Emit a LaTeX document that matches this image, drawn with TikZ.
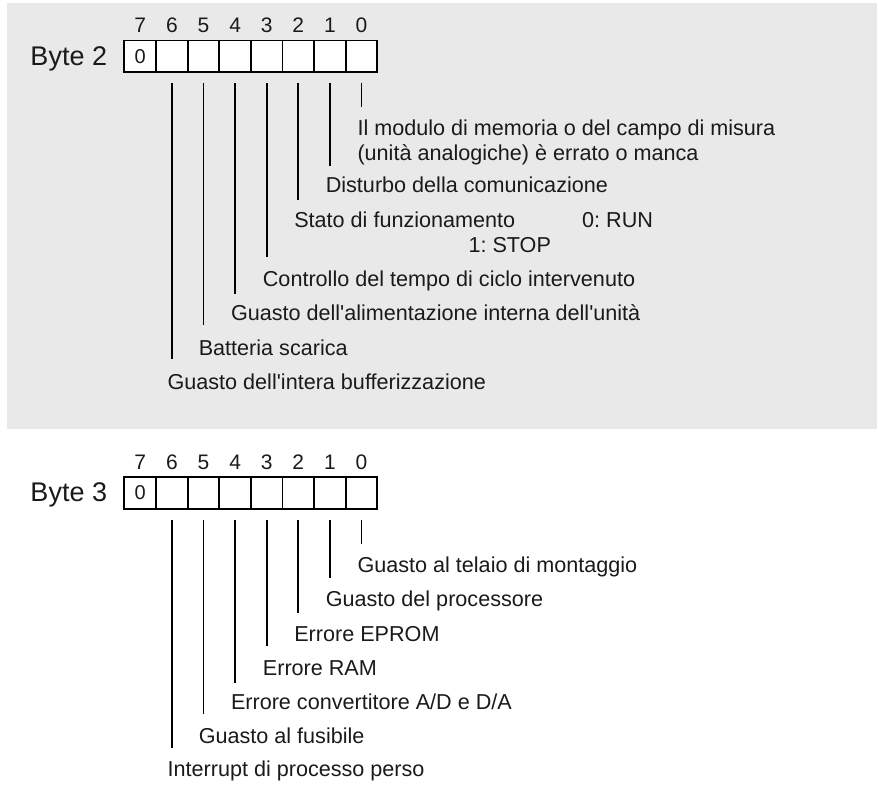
\documentclass[tikz,border=0pt]{standalone}
\usepackage{fontspec}
\setmainfont{Liberation Sans}[Ligatures=TeXOff]
\definecolor{panel}{HTML}{E9E9E9}
\definecolor{txt}{HTML}{1A1A1A}
\begin{document}
\frenchspacing
\begin{tikzpicture}[x=1pt,y=-1pt,
  cell/.style={draw=black, line width=1.7pt, fill=white, minimum width=31.6pt, minimum height=31.5pt, inner sep=0pt, outer sep=0pt, text=txt, font=\fontsize{20}{20}\selectfont},
  bitnum/.style={anchor=base, inner sep=0pt, text=txt, font=\fontsize{21}{21}\selectfont},
  lbl/.style={anchor=base west, inner sep=0pt, text=txt, font=\fontsize{21.6}{25}\selectfont},
  bytelbl/.style={anchor=base west, inner sep=0pt, text=txt, font=\fontsize{27}{27}\selectfont},
  conn/.style={draw=black, line width=1.7pt}]
\useasboundingbox (0,0) rectangle (878,786);
\fill[panel] (7,3) rectangle (877,429);

% ---------------- Byte 2 ----------------
\node[bytelbl] (byte2) at (30.3,65.3) {Byte 2};
\node[cell] (a7) at (140.1,56.25) {0};
\node[cell] (a6) at (171.9,56.25) {};
\node[cell] (a5) at (203.5,56.25) {};
\node[cell] (a4) at (235.1,56.25) {};
\node[cell] (a3) at (266.7,56.25) {};
\node[cell] (a2) at (298.3,56.25) {};
\node[cell] (a1) at (329.9,56.25) {};
\node[cell] (a0) at (361.5,56.25) {};
\foreach \k in {0,...,7} \node[bitnum] (na\k) at (a\k |- 0,32.5) {\k};

\coordinate (ea0) at (361.5,106.7);
\coordinate (ea1) at (329.9,166);
\coordinate (ea2) at (298.3,200);
\coordinate (ea3) at (266.7,256.7);
\coordinate (ea4) at (235.1,294.3);
\coordinate (ea5) at (203.5,325);
\coordinate (ea6) at (171.9,359.3);
\foreach \k in {0,...,6} \draw[conn] ([yshift=-11.3pt]a\k.south) -- (ea\k);

\node[lbl] (la0) at (357.3,135.5) {Il modulo di memoria o del campo di misura};
\node[lbl] (la0b) at (357.3,161) {(unità analogiche) è errato o manca};
\node[lbl] (la1) at (325.6,193) {Disturbo della comunicazione};
\node[lbl] (la2) at (294.1,227.7) {Stato di funzionamento};
\node[lbl] (la2r) at (582,227.7) {0: RUN};
\node[lbl] (la2s) at (468.3,252.5) {1: STOP};
\node[lbl] (la3) at (262.7,286.5) {Controllo del tempo di ciclo intervenuto};
\node[lbl] (la4) at (230.8,320.7) {Guasto dell'alimentazione interna dell'unità};
\node[lbl] (la5) at (198.6,355) {Batteria scarica};
\node[lbl] (la6) at (167.4,389.3) {Guasto dell'intera bufferizzazione};

% ---------------- Byte 3 ----------------
\node[bytelbl] (byte3) at (30.3,501.8) {Byte 3};
\node[cell] (b7) at (140.1,493) {0};
\node[cell] (b6) at (171.9,493) {};
\node[cell] (b5) at (203.5,493) {};
\node[cell] (b4) at (235.1,493) {};
\node[cell] (b3) at (266.7,493) {};
\node[cell] (b2) at (298.3,493) {};
\node[cell] (b1) at (329.9,493) {};
\node[cell] (b0) at (361.5,493) {};
\foreach \k in {0,...,7} \node[bitnum] (nb\k) at (b\k |- 0,469.5) {\k};

\coordinate (eb0) at (361.5,544);
\coordinate (eb1) at (329.9,578.3);
\coordinate (eb2) at (298.3,612.7);
\coordinate (eb3) at (266.7,646);
\coordinate (eb4) at (235.1,682.7);
\coordinate (eb5) at (203.5,714);
\coordinate (eb6) at (171.9,748.3);
\foreach \k in {0,...,6} \draw[conn] ([yshift=-11.3pt]b\k.south) -- (eb\k);

\node[lbl] (lb0) at (357.3,572.5) {Guasto al telaio di montaggio};
\node[lbl] (lb1) at (325.6,606.7) {Guasto del processore};
\node[lbl] (lb2) at (294.1,641) {Errore EPROM};
\node[lbl] (lb3) at (262.7,675) {Errore RAM};
\node[lbl] (lb4) at (230.8,709.3) {Errore convertitore A/D e D/A};
\node[lbl] (lb5) at (198.6,743.3) {Guasto al fusibile};
\node[lbl] (lb6) at (167.4,776.5) {Interrupt di processo perso};
\end{tikzpicture}
\end{document}
